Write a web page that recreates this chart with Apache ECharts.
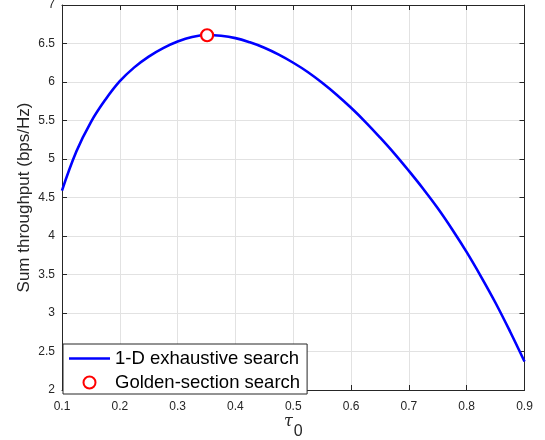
<!DOCTYPE html>
<html>
<head>
<meta charset="utf-8">
<script src="https://cdn.jsdelivr.net/npm/echarts@6/dist/echarts.min.js"></script>
<style>
	html, body { margin: 0; padding: 0; background: #fff; }
	#chart { width: 545px; height: 440px; }
</style>
</head>
<body>
<div id="chart"></div>
<script>
/* 数据 */
const tau = [0.1, 0.125, 0.15, 0.175, 0.2, 0.225, 0.25, 0.275, 0.3, 0.325, 0.35, 0.375, 0.4, 0.425, 0.45, 0.475, 0.5,
	0.525, 0.55, 0.575, 0.6, 0.625, 0.65, 0.675, 0.7, 0.725, 0.75, 0.775, 0.8, 0.825, 0.85, 0.875, 0.9];
const throughput = [4.59, 5.10, 5.48, 5.77, 6.01, 6.19, 6.33, 6.44, 6.525, 6.585, 6.61, 6.60, 6.57, 6.515, 6.445, 6.355, 6.25,
	6.13, 5.99, 5.835, 5.665, 5.48, 5.28, 5.07, 4.845, 4.61, 4.36, 4.085, 3.79, 3.47, 3.13, 2.76, 2.37];
const goldenPoint = [0.351, 6.607];
const xTicks = ['0.1', '0.2', '0.3', '0.4', '0.5', '0.6', '0.7', '0.8', '0.9'];
const yTicks = ['2', '2.5', '3', '3.5', '4', '4.5', '5', '5.5', '6', '6.5', '7'];
const seriesNames = ['1-D exhaustive search', 'Golden-section search'];

const axisColor = '#262626';
const gridColor = '#e2e2e2';
const font = 'Liberation Sans, Arial, Helvetica, sans-serif';

const chart = echarts.init(document.getElementById('chart'));

const tickLabel = (list, min, step) => v => list[Math.round((v - min) / step)] || '';

const baseX = {
	type: 'value',
	min: 0.1,
	max: 0.9,
	interval: 0.1,
	axisLine: { show: true, onZero: false, lineStyle: { color: axisColor, width: 1 } },
	axisTick: { show: true, inside: true, length: 5, lineStyle: { color: axisColor } }
};
const baseY = {
	type: 'value',
	min: 2,
	max: 7,
	interval: 0.5,
	axisLine: { show: true, onZero: false, lineStyle: { color: axisColor, width: 1 } },
	axisTick: { show: true, inside: true, length: 5, lineStyle: { color: axisColor } }
};

chart.setOption({
	animation: false,
	backgroundColor: '#fff',
	grid: {
		left: 62,
		right: 20.5,
		top: 5,
		bottom: 50,
		containLabel: false,
		outerBoundsMode: 'none'
	},
	legend: {
		orient: 'vertical',
		left: 63,
		top: 344,
		data: [
			{ name: seriesNames[0], icon: 'path://M0,0L41,0L41,2.6L0,2.6Z' },
			{ name: seriesNames[1] }
		],
		backgroundColor: '#fff',
		borderColor: axisColor,
		borderWidth: 1,
		borderRadius: 0,
		padding: [5, 7, 2, 6],
		itemWidth: 41,
		itemHeight: 12,
		itemGap: 5,
		symbolKeepAspect: true,
		textStyle: {
			fontFamily: font,
			fontSize: 18.5,
			color: '#000',
			lineHeight: 19
		}
	},
	xAxis: [
		Object.assign({}, baseX, {
			position: 'bottom',
			axisLabel: {
				fontFamily: font,
				fontSize: 12,
				color: axisColor,
				margin: 11,
				formatter: tickLabel(xTicks, 0.1, 0.1)
			},
			splitLine: { show: true, lineStyle: { color: gridColor, width: 1 } },
			name: '{t|τ}{s|0}',
			nameLocation: 'middle',
			nameGap: 13,
			nameMoveOverlap: false,
			nameTextStyle: {
				rich: {
					t: { fontFamily: 'DejaVu Serif', fontStyle: 'italic', fontSize: 16, color: axisColor },
					s: { fontFamily: font, fontSize: 16, color: axisColor, padding: [21, 0, 0, 1] }
				}
			}
		}),
		Object.assign({}, baseX, {
			position: 'top',
			axisLabel: { show: false },
			splitLine: { show: false }
		})
	],
	yAxis: [
		Object.assign({}, baseY, {
			position: 'left',
			axisLabel: {
				fontFamily: font,
				fontSize: 12,
				color: axisColor,
				margin: 7,
				formatter: tickLabel(yTicks, 2, 0.5)
			},
			splitLine: { show: true, lineStyle: { color: gridColor, width: 1 } },
			name: 'Sum throughput (bps/Hz)',
			nameLocation: 'middle',
			nameGap: 29,
			nameMoveOverlap: false,
			nameTextStyle: {
				fontFamily: font,
				fontSize: 17,
				color: axisColor
			}
		}),
		Object.assign({}, baseY, {
			position: 'right',
			axisLabel: { show: false },
			splitLine: { show: false }
		})
	],
	series: [
		{
			name: seriesNames[0],
			type: 'line',
			smooth: 0.4,
			symbol: 'none',
			showSymbol: false,
			lineStyle: { color: '#0000ff', width: 2.6 },
			itemStyle: { color: '#0000ff' },
			data: tau.map((t, i) => [t, throughput[i]]),
			z: 2
		},
		{
			name: seriesNames[1],
			type: 'scatter',
			symbol: 'circle',
			symbolSize: 12,
			itemStyle: { color: '#ffffff', borderColor: '#ff0000', borderWidth: 2.2, opacity: 1 },
			data: [goldenPoint],
			z: 3
		}
	]
});
</script>
</body>
</html>
